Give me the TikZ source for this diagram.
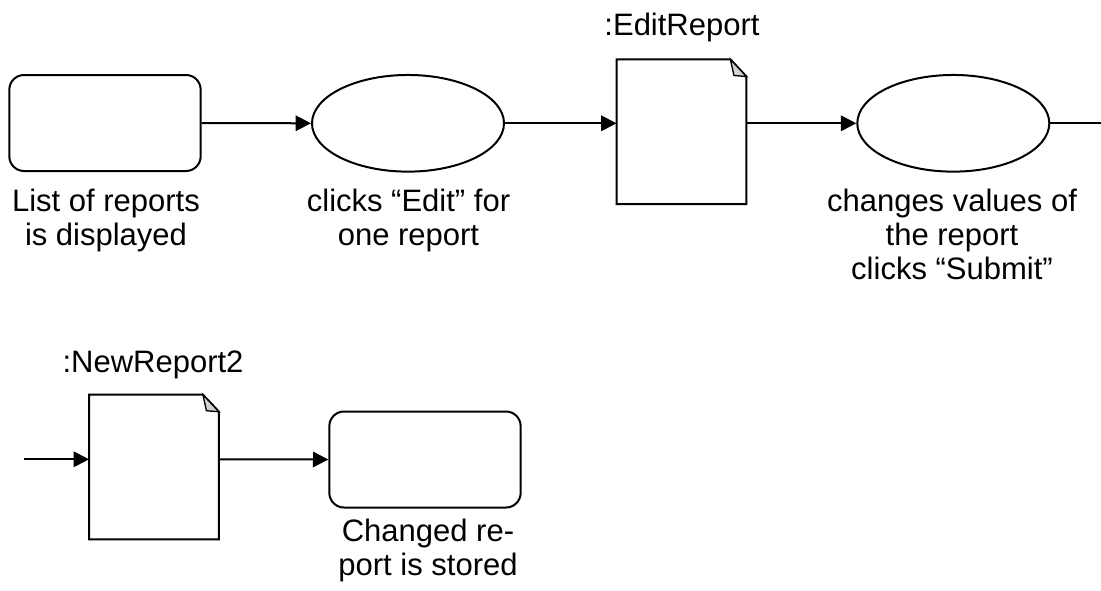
\documentclass[tikz,border=0pt]{standalone}
\usepackage{fontspec}
\setmainfont{Liberation Sans}
\usetikzlibrary{arrows.meta,shapes.geometric,calc}

\tikzset{
  lw/.style={line width=1.5pt},
  statebox/.style={lw, draw, rounded corners=11pt, minimum width=143.5pt, minimum height=72pt, inner sep=0pt},
  actionell/.style={lw, draw, ellipse, minimum width=144pt, minimum height=72.5pt, inner sep=0pt},
  docbox/.style={minimum width=97pt, minimum height=108pt, inner sep=0pt},
  % the base anchor of a multi-line caption sits on its last line
  caption/.style={anchor=base, align=center, inner sep=0pt, font=\fontsize{23.25}{25.5}\selectfont},
  flow/.style={lw, -{Triangle[length=11.5pt,width=11.5pt]}},
  plain/.style={lw},
}

% outline of a sheet with a folded top-right corner
\newcommand{\sheet}[1]{%
  \draw[lw, line join=miter]
    ($(#1.north east)+(-16,0)$) -- (#1.north west) -- (#1.south west)
    -- (#1.south east) -- ($(#1.north east)+(0,17)$) -- cycle;
  \draw[line width=1pt, fill=gray!35]
    ($(#1.north east)+(-16,0)$) -- ($(#1.north east)+(-12.5,16)$)
    -- ($(#1.north east)+(0,17)$) -- cycle;
}

\begin{document}
\begin{tikzpicture}[x=0.75pt, y=-0.75pt]
  \useasboundingbox (0,0) rectangle (1101,590);

  % first row
  \node[statebox] (list) at (105,123) {};
  \node[actionell] (edit) at (408,123.3) {};
  \node[docbox] (editrep) at (681.5,131.75) {};
  \sheet{editrep}
  \node[actionell] (change) at (953.3,123.3) {};
  \coordinate (outright) at (1101,123.3);

  \node[caption] (listtxt) at (106,245) {List of reports\\is displayed};
  \node[caption] (edittxt) at (408.5,245) {clicks “Edit” for\\one report};
  \node[caption] (editreptxt) at (682,35) {:EditReport};
  \node[caption] (changetxt) at (952,279) {changes values of\\the report\\clicks “Submit”};

  \draw[flow] (list.east) -- (edit.west);
  \draw[flow] (edit.east) -- (edit.east -| editrep.west);
  \draw[flow] (edit.east -| editrep.east) -- (change.west);
  \draw[plain] (change.east) -- (outright);

  % second row
  \coordinate (inleft) at (24,459.3);
  \node[docbox, minimum height=108pt] (newrep) at (154,467) {};
  \sheet{newrep}
  \node[statebox] (stored) at (425,459.5) {};

  \node[caption] (newreptxt) at (153,372) {:NewReport2};
  \node[caption] (storedtxt) at (428,575) {Changed re-\\port is stored};

  \draw[flow] (inleft) -- (inleft -| newrep.west);
  \draw[flow] (inleft -| newrep.east) -- (stored.west);
\end{tikzpicture}
\end{document}
